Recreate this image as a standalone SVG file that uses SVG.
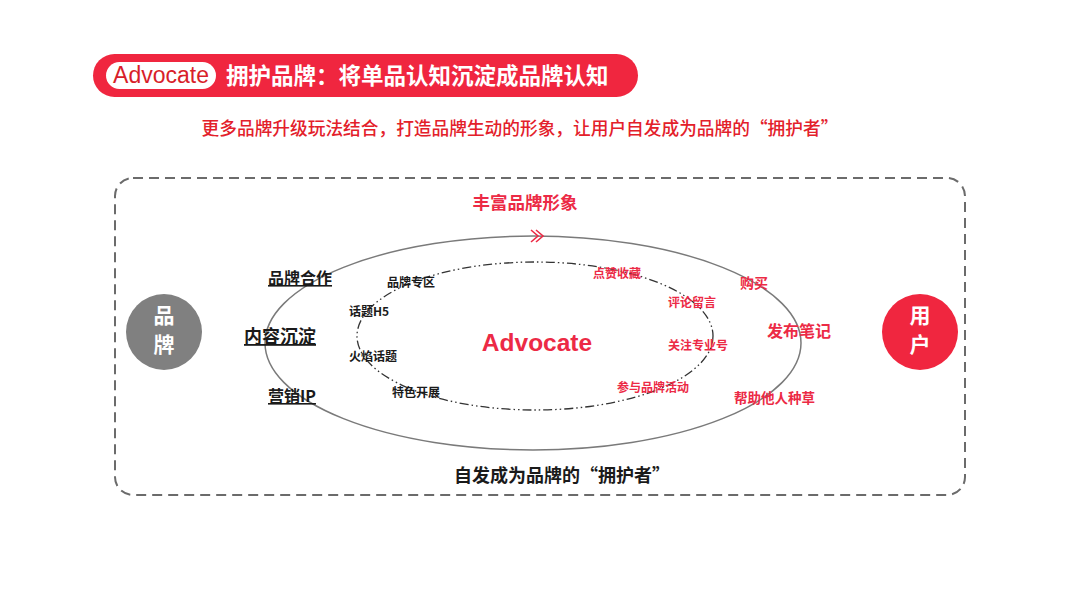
<svg xmlns="http://www.w3.org/2000/svg" width="1080" height="607" viewBox="0 0 1080 607">
<style>
.cjk{font-family:"Noto Sans CJK SC","Noto Sans",sans-serif;font-weight:700}
.lat{font-family:"Liberation Sans",Arial,sans-serif}
.red{fill:#EC2A45}
.blk{fill:#1a1a1a}
.ul{text-decoration:underline}
</style>
<rect width="1080" height="607" fill="#ffffff"/>
<g id="header">
<rect x="93" y="54" width="545" height="43" rx="21.5" fill="#F0263F"/>
<rect x="106" y="62" width="110" height="27" rx="13.5" fill="#ffffff"/>
<text x="161" y="83" class="lat" font-size="23" fill="#D81E2A" text-anchor="middle">Advocate</text>
<text x="226" y="84" class="cjk" font-size="22.5" fill="#ffffff">拥护品牌：将单品认知沉淀成品牌认知</text>
</g>
<g id="subtitle">
<text x="520" y="135" font-family="Noto Sans CJK SC, sans-serif" font-weight="500" font-size="17.7" fill="#E3202A" text-anchor="middle">更多品牌升级玩法结合，打造品牌生动的形象，让用户自发成为品牌的“拥护者”</text>
</g>
<g id="frame">
<rect x="115" y="178" width="850" height="317" rx="18" fill="none" stroke="#6b6b6b" stroke-width="2" stroke-dasharray="10 6"/>
</g>
<g id="connectors">
<ellipse cx="533" cy="343" rx="268" ry="107" fill="none" stroke="#7a7a7a" stroke-width="1.5"/>
<ellipse cx="535" cy="336" rx="178" ry="74" fill="none" stroke="#333333" stroke-width="1.3" stroke-dasharray="9 3 1.5 3 1.5 3"/>
<g fill="none" stroke="#EC2A45" stroke-width="1.6">
<polyline points="531,230 538,236 531,242"/>
<polyline points="536,230 543,236 536,242"/>
</g>
</g>
<g id="top-label">
<text x="525" y="209" class="cjk red" font-size="17.5" text-anchor="middle">丰富品牌形象</text>
</g>
<g id="node-brand">
<circle cx="164" cy="332" r="38" fill="#808080"/>
<text x="164" y="323" class="cjk" font-size="21" fill="#ffffff" text-anchor="middle">品</text>
<text x="164" y="352" class="cjk" font-size="21" fill="#ffffff" text-anchor="middle">牌</text>
</g>
<g id="node-user">
<circle cx="920" cy="332" r="38" fill="#F0263F"/>
<text x="920" y="323" class="cjk" font-size="21" fill="#ffffff" text-anchor="middle">用</text>
<text x="920" y="352" class="cjk" font-size="21" fill="#ffffff" text-anchor="middle">户</text>
</g>
<g id="center">
<text x="537" y="351" class="lat red" font-size="24.5" font-weight="700" text-anchor="middle">Advocate</text>
</g>
<g id="left-outer">
<text x="268" y="284" class="cjk blk ul" font-size="16">品牌合作</text>
<text x="244" y="343" class="cjk blk ul" font-size="18">内容沉淀</text>
<text x="268" y="402" class="cjk blk ul" font-size="16">营销IP</text>
</g>
<g id="left-inner">
<text x="387" y="287" class="cjk blk" font-size="12">品牌专区</text>
<text x="349" y="316" class="cjk blk" font-size="12">话题H5</text>
<text x="349" y="361" class="cjk blk" font-size="12">火焰话题</text>
<text x="392" y="397" class="cjk blk" font-size="12">特色开展</text>
</g>
<g id="right-inner">
<text x="593" y="278" class="cjk red" font-size="12">点赞收藏</text>
<text x="668" y="307" class="cjk red" font-size="12">评论留言</text>
<text x="668" y="350" class="cjk red" font-size="12">关注专业号</text>
<text x="617" y="392" class="cjk red" font-size="12">参与品牌活动</text>
</g>
<g id="right-outer">
<text x="740" y="288" class="cjk red" font-size="14">购买</text>
<text x="767" y="337" class="cjk red" font-size="16">发布笔记</text>
<text x="734" y="403" class="cjk red" font-size="13.5">帮助他人种草</text>
</g>
<g id="bottom-label">
<text x="562" y="482" class="cjk blk" font-size="18" text-anchor="middle">自发成为品牌的“拥护者”</text>
</g>
</svg>
